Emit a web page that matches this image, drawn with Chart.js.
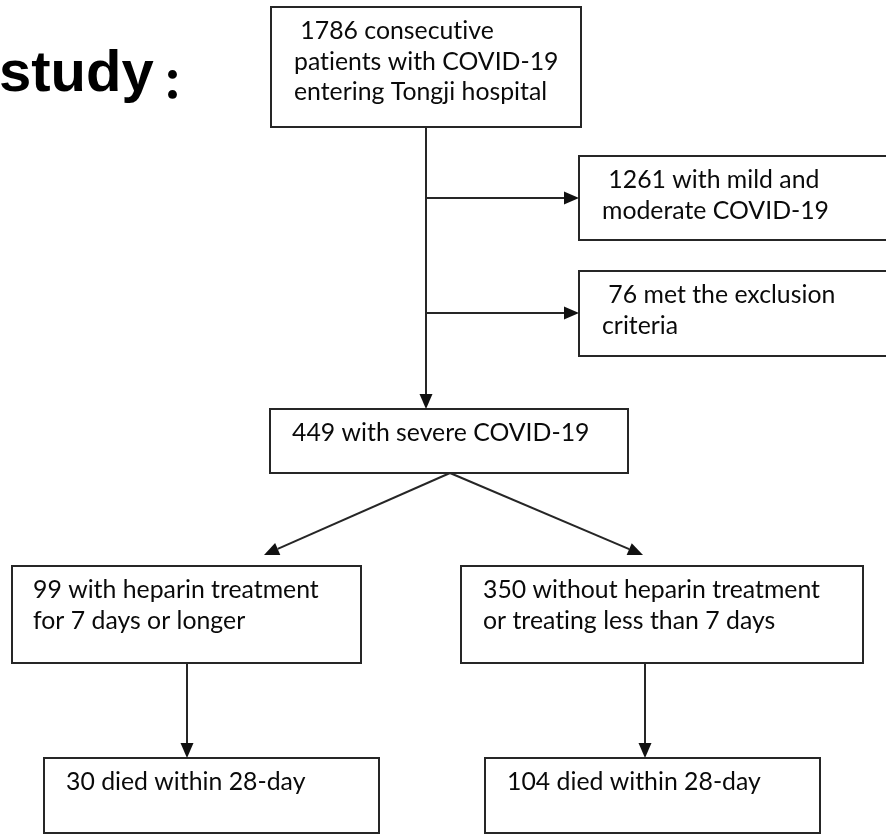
<!DOCTYPE html>
<html>
<head>
<meta charset="utf-8">
<script src="https://cdn.jsdelivr.net/npm/chart.js@4"></script>
<style>
  html, body { margin: 0; padding: 0; background: #fff; }
  #flow { display: block; }
</style>
</head>
<body>
<canvas id="flow" width="886" height="834"></canvas>
<script>
// patient numbers at each step of the flow
var counts = [1786, 1261, 76, 449, 99, 350, 30, 104];
// text that follows each number, one entry per line
var descriptions = [
  ['consecutive', 'patients with COVID-19', 'entering Tongji hospital'],
  ['with mild and', 'moderate COVID-19'],
  ['met the exclusion', 'criteria'],
  ['with severe COVID-19'],
  ['with heparin treatment', 'for 7 days or longer'],
  ['without heparin treatment', 'or treating less than 7 days'],
  ['died within 28-day'],
  ['died within 28-day']
];
var heading = 'study';

// layout of the drawing (in scale units, same as pixels here)
var boxes = [
  {x0: 271, y0: 7, x1: 581, y1: 127, pad: 23, lead: true},
  {x0: 579, y0: 156, x1: 900, y1: 240, pad: 23, lead: true},
  {x0: 579, y0: 271, x1: 900, y1: 356, pad: 23, lead: true},
  {x0: 270, y0: 409, x1: 628, y1: 473, pad: 22},
  {x0: 12, y0: 566, x1: 361, y1: 663, pad: 21},
  {x0: 461, y0: 566, x1: 863, y1: 663, pad: 22},
  {x0: 44, y0: 758, x1: 379, y1: 833, pad: 22},
  {x0: 485, y0: 758, x1: 820, y1: 833, pad: 22}
];
var arrows = [
  [426, 127, 426, 409],
  [426, 198, 579, 198],
  [426, 313, 579, 313],
  [450, 473, 264, 555],
  [450, 473, 643, 555],
  [187, 663, 187, 758],
  [645, 663, 645, 758]
];

var lineColor = '#262626';
var textColor = '#0a0a0a';

var flowPlugin = {
  id: 'flow',
  afterDraw: function(chart) {
    var ctx = chart.ctx;
    var sx = chart.scales.x, sy = chart.scales.y;
    var px = function(v) { return sx.getPixelForValue(v); };
    var py = function(v) { return sy.getPixelForValue(v); };
    ctx.save();

    // heading
    ctx.fillStyle = '#000';
    ctx.textBaseline = 'alphabetic';
    ctx.textAlign = 'left';
    ctx.font = 'bold 58px "Liberation Sans", Arial, sans-serif';
    ctx.fillText(heading, px(-1), py(91));
    ctx.font = '900 42px "Noto Sans CJK SC", sans-serif';
    ctx.fillText('\uFF1A', px(162), py(98));

    // boxes
    ctx.strokeStyle = lineColor;
    ctx.lineWidth = 2;
    boxes.forEach(function(b, i) {
      ctx.strokeRect(px(b.x0), py(b.y0), px(b.x1) - px(b.x0), py(b.y1) - py(b.y0));
      ctx.fillStyle = textColor;
      ctx.font = '24.8px Lato, "Noto Sans", sans-serif';
      ctx.letterSpacing = '0.01px';
      ctx.textAlign = 'left';
      var lines = descriptions[i].slice();
      lines[0] = (b.lead ? ' ' : '') + counts[i] + ' ' + lines[0];
      lines.forEach(function(t, k) {
        ctx.fillText(t, px(b.x0 + b.pad), py(b.y0 + 32 + k * 30.5));
      });
      ctx.letterSpacing = '0px';
    });

    // arrows
    arrows.forEach(function(a) {
      var x0 = px(a[0]), y0 = py(a[1]), x1 = px(a[2]), y1 = py(a[3]);
      var ang = Math.atan2(y1 - y0, x1 - x0);
      var hl = 15, hw = 6.5;
      var bx = x1 - hl * Math.cos(ang), by = y1 - hl * Math.sin(ang);
      ctx.beginPath();
      ctx.moveTo(x0, y0);
      ctx.lineTo(bx, by);
      ctx.stroke();
      ctx.beginPath();
      ctx.moveTo(x1, y1);
      ctx.lineTo(bx + hw * Math.sin(ang), by - hw * Math.cos(ang));
      ctx.lineTo(bx - hw * Math.sin(ang), by + hw * Math.cos(ang));
      ctx.closePath();
      ctx.fillStyle = '#111';
      ctx.fill();
    });
    ctx.restore();
  }
};

new Chart(document.getElementById('flow'), {
  type: 'scatter',
  data: { datasets: [{ data: [], pointRadius: 0 }] },
  options: {
    responsive: false,
    animation: false,
    devicePixelRatio: 1,
    layout: { padding: 0 },
    scales: {
      x: { type: 'linear', min: 0, max: 886, display: false },
      y: { type: 'linear', min: 0, max: 834, reverse: true, display: false }
    },
    plugins: { legend: { display: false }, tooltip: { enabled: false } }
  },
  plugins: [flowPlugin]
});
</script>
</body>
</html>
